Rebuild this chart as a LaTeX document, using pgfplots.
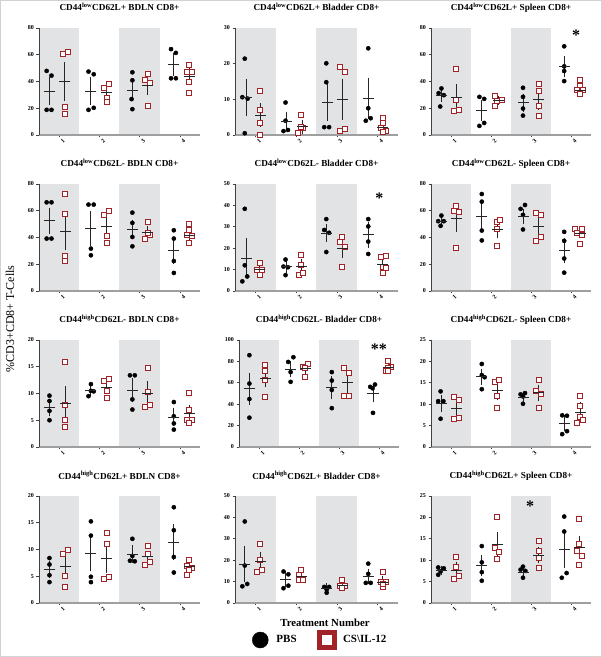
\documentclass[border=0pt]{standalone}
\usepackage{pgfplots}
\pgfplotsset{compat=1.18}
\usepackage{fontspec}
\setmainfont{Liberation Serif}
\definecolor{csred}{RGB}{160,35,40}
\definecolor{band}{RGB}{226,227,229}
\pgfplotsset{
 base/.style={
  scale only axis, height=107pt, anchor=north west,
  xmin=0.5, xmax=4.5, ymin=0,
  axis x line=bottom, axis y line=left,
  x axis line style={-, line width=1.6pt, color=gray!75},
  y axis line style={-, line width=0.8pt, color=black!75},
  xtick={1,2,3,4}, tick align=outside, major tick length=2.5pt,
  tick style={black!75, line width=0.6pt},
  xticklabel style={rotate=45, anchor=center, font=\fontsize{6}{7}\selectfont\bfseries, yshift=-5pt},
  yticklabel style={font=\fontsize{6}{7}\selectfont\bfseries, xshift=1pt},
  /pgf/number format/assume math mode=true,
  title style={at={(0.5,1)}, anchor=base, yshift=11pt, font=\fontsize{9.2}{10}\selectfont\bfseries},
  clip=false, axis on top,
 },
 pbs/.style={only marks, mark=*, mark size=2.1pt, black, forget plot},
 cs/.style={only marks, mark=square*, mark size=2.5pt, mark options={fill=white, draw=csred, line width=1pt}, forget plot},
 stat/.style={only marks, mark=-, mark size=5.5pt, mark options={line width=0.9pt}, black!85, forget plot,
   error bars/.cd, y dir=both, y explicit, error mark=-,
   error mark options={mark size=3pt, line width=0.9pt, black!85},
   error bar style={line width=0.9pt, black!85}},
}
\newcommand{\panel}[8]{%
\begin{axis}[base, #1, ymax=#2, ytick={#3}, title={#4}]
\fill[band] (axis cs:0.5,0) rectangle (axis cs:1.5,#2);
\fill[band] (axis cs:2.5,0) rectangle (axis cs:3.5,#2);
\addplot[pbs] coordinates {#5};
\addplot[cs] coordinates {#6};
\addplot[stat] coordinates {#7};
#8
\end{axis}}
\newcommand{\sig}[2]{\node[font=\fontsize{16}{16}\selectfont\bfseries, anchor=base, yshift=-8.5pt] at (axis cs:#1) {#2};}
\begin{document}
\begin{tikzpicture}[x=1pt,y=1pt]
\useasboundingbox (0,0) rectangle (602,657);
\draw[gray!35, line width=0.8pt] (0.4,0.4) rectangle (601.6,656.6);
% Row 1
\panel{at={(39pt,629pt)}, width=161pt}{80}{0,20,...,80}{CD44\textsuperscript{low}CD62L+ BDLN CD8+}
{(0.69,47.9)(0.81,44.4)(0.69,18.8)(0.81,18.8) (1.73,47.4)(1.86,45.4)(1.73,18.8)(1.86,20.3) (2.82,46.9)(2.82,40.9)(2.80,26.8)(2.82,19.3) (3.78,64.2)(3.90,61.4)(3.78,42.4)(3.90,42.4)}
{(1.09,60.2)(1.21,62.2)(1.15,20.8)(1.15,15.5) (2.12,35.3)(2.24,37.8)(2.18,27.8)(2.18,24.3) (3.13,41.1)(3.21,45.4)(3.26,38.6)(3.20,21.8) (4.23,52.4)(4.17,46.9)(4.29,47.4)(4.23,39.8)(4.23,31.1)}
{(0.77,32.8)+-(0,8.2) (1.79,32.8)+-(0,8) (2.82,33.3)+-(0,5.5) (3.85,52.6)+-(0,6.1) (1.14,39.8)+-(0,12.3) (2.17,31.6)+-(0,2.7) (3.20,37.1)+-(0,4.9) (4.23,43.6)+-(0,4.3)}
{}
\panel{at={(235pt,629pt)}, width=163pt}{30}{0,10,20,30}{CD44\textsuperscript{low}CD62L+ Bladder CD8+}
{(0.74,21.4)(0.68,10.6)(0.81,10.2)(0.74,0.5) (1.74,9.1)(1.74,4.0)(1.69,1.1)(1.80,1.4) (2.74,20.1)(2.74,14.8)(2.69,2.2)(2.81,2.2) (3.77,24.3)(3.77,7.5)(3.83,4.7)(3.71,4.0)}
{(1.11,12.3)(1.11,7.0)(1.11,3.4)(1.11,0.1) (2.12,5.6)(2.05,0.5)(2.17,1.9)(2.12,2.2) (3.07,19.0)(3.19,17.8)(3.07,1.2)(3.19,1.6) (4.13,4.8)(4.13,3.3)(4.08,1.9)(4.20,1.2)(4.13,0.7)}
{(0.77,10.6)+-(0,4.3) (1.77,3.9)+-(0,1.8) (2.77,9.2)+-(0,4.3) (3.77,10.2)+-(0,4.8) (1.13,5.6)+-(0,2.4) (2.15,2.3)+-(0,1.2) (3.13,10.0)+-(0,4.9) (4.13,2.2)+-(0,0.9)}
{}
\panel{at={(431pt,629pt)}, width=160pt}{80}{0,20,...,80}{CD44\textsuperscript{low}CD62L+ Spleen CD8+}
{(0.69,31.3)(0.76,34.8)(0.82,29.8)(0.73,21.3) (1.71,28.5)(1.83,27.0)(1.71,6.8)(1.83,9.0) (2.80,35.3)(2.80,28.5)(2.80,19.8)(2.80,14.5) (3.83,66.3)(3.83,51.3)(3.83,47.8)(3.83,40.3)}
{(1.12,49.5)(1.12,26.5)(1.07,18.0)(1.19,18.5) (2.09,29.3)(2.09,22.0)(2.15,25.5)(2.27,26.0) (3.19,37.8)(3.19,32.8)(3.19,21.5)(3.19,14.5) (4.23,41.0)(4.23,36.5)(4.16,33.5)(4.29,33.5)(4.23,31.0)}
{(0.76,29.8)+-(0,3) (1.77,18.5)+-(0,5.6) (2.80,24)+-(0,4.6) (3.83,51)+-(0,5.6) (1.14,28)+-(0,7.6) (2.18,26)+-(0,1.1) (3.19,26.8)+-(0,5.9) (4.23,33.5)+-(0,1.5)}
{\sig{4.13,77}{*}}
% Row 2
\panel{at={(39pt,473pt)}, width=161pt}{80}{0,20,...,80}{CD44\textsuperscript{low}CD62L- BDLN CD8+}
{(0.69,66.3)(0.81,66.3)(0.69,39.2)(0.81,39.2) (1.73,64.6)(1.86,64.6)(1.79,31.7)(1.79,26.7) (2.82,58.6)(2.82,50.9)(2.82,40.4)(2.82,33.4) (3.85,45.4)(3.85,39.2)(3.85,22.4)(3.85,13.5)}
{(1.15,72.6)(1.15,57.4)(1.15,26.2)(1.15,22.4) (2.11,56.9)(2.24,59.9)(2.18,41.1)(2.18,35.9) (3.20,51.6)(3.14,39.2)(3.26,41.6)(3.20,43.6) (4.23,50.1)(4.23,45.6)(4.17,41.6)(4.29,41.4)(4.23,35.7)}
{(0.77,52.6)+-(0,7.5) (1.79,46.6)+-(0,10.6) (2.82,45.9)+-(0,4.9) (3.85,30.2)+-(0,7.8) (1.15,44.6)+-(0,11.4) (2.18,48.4)+-(0,5.7) (3.20,44.1)+-(0,2.3) (4.23,41.9)+-(0,2.5)}
{}
\panel{at={(235pt,473pt)}, width=163pt}{50}{0,10,...,50}{CD44\textsuperscript{low}CD62L- Bladder CD8+}
{(0.74,38.4)(0.74,12.0)(0.80,6.8)(0.68,4.5) (1.74,14.7)(1.69,11.4)(1.80,11.1)(1.74,7.4) (2.74,33.6)(2.69,28.5)(2.81,27.2)(2.74,18.2) (3.77,33.6)(3.77,30.2)(3.77,23.1)(3.77,17.3)}
{(1.11,13.1)(1.05,9.6)(1.17,9.6)(1.11,7.4) (2.12,16.8)(2.12,12.3)(2.06,7.7)(2.18,8.6) (3.13,25.3)(3.07,23.1)(3.19,20.7)(3.13,11.1) (4.20,16.4)(4.08,15.7)(4.13,11.4)(4.20,10.8)(4.13,8.5)}
{(0.77,15.3)+-(0,7.9) (1.77,11.3)+-(0,1.3) (2.74,27.0)+-(0,2.8) (3.77,26.2)+-(0,4.7) (1.11,10.0)+-(0,1.0) (2.13,11.4)+-(0,2.0) (3.13,19.9)+-(0,3.3) (4.13,12.3)+-(0,1.7)}
{\sig{4.04,45}{*}}
\panel{at={(431pt,473pt)}, width=160pt}{80}{0,20,...,80}{CD44\textsuperscript{low}CD62L- Spleen CD8+}
{(0.76,56.4)(0.68,52.2)(0.82,52.2)(0.74,48.7) (1.77,72.5)(1.77,66.8)(1.77,45.2)(1.77,37.8) (2.74,61.4)(2.85,64.3)(2.80,56.9)(2.80,46.0) (3.83,44.2)(3.83,37.5)(3.83,24.3)(3.83,13.7)}
{(1.12,63.4)(1.07,60.1)(1.19,59.1)(1.12,32.0) (2.15,51.7)(2.22,53.4)(2.15,46.7)(2.15,33.3) (3.13,58.4)(3.25,57.1)(3.25,40.7)(3.13,37.3) (4.10,46.5)(4.28,46.7)(4.16,43.5)(4.28,42.2)(4.23,34.8)}
{(0.76,51.9)+-(0,1.9) (1.77,55.7)+-(0,8.7) (2.80,55.7)+-(0,3.7) (3.83,30.1)+-(0,7.3) (1.14,53.9)+-(0,7.6) (2.17,46.2)+-(0,4.5) (3.19,48.2)+-(0,5.5) (4.23,43.2)+-(0,1.5)}
{}
% Row 3
\panel{at={(39pt,317pt)}, width=161pt}{20}{0,5,...,20}{CD44\textsuperscript{high}CD62L- BDLN CD8+}
{(0.76,9.6)(0.76,8.6)(0.76,6.75)(0.76,5.0) (1.79,11.75)(1.73,9.5)(1.86,10.4)(1.79,10.5) (2.76,13.4)(2.88,13.4)(2.82,8.9)(2.82,7.0) (3.85,8.4)(3.85,5.75)(3.85,4.4)(3.85,3.25)}
{(1.15,15.8)(1.15,7.9)(1.15,5.0)(1.15,3.75) (2.11,12.4)(2.24,12.7)(2.18,10.4)(2.18,9.1) (3.20,14.8)(3.20,10.3)(3.14,7.5)(3.26,7.9) (4.23,10.0)(4.23,7.0)(4.17,5.1)(4.29,5.0)(4.23,4.5)}
{(0.77,7.4)+-(0,1.1) (1.79,10.5)+-(0,0.45) (2.82,10.6)+-(0,1.7) (3.85,5.6)+-(0,1.1) (1.15,8.1)+-(0,2.7) (2.18,11.1)+-(0,0.55) (3.20,10.1)+-(0,1.7) (4.23,6.2)+-(0,1.0)}
{}
\panel{at={(239pt,317pt)}, width=160pt}{100}{0,20,...,100}{CD44\textsuperscript{high}CD62L- Bladder CD8+}
{(0.76,85.8)(0.76,59.3)(0.76,44.8)(0.76,27.4) (1.73,79.5)(1.86,83.9)(1.79,70.0)(1.79,60.9) (2.82,70.0)(2.82,62.1)(2.82,53.3)(2.82,36.3) (3.78,56.2)(3.84,54.9)(3.90,58.4)(3.85,31.9)}
{(1.15,76.3)(1.15,71.3)(1.15,62.5)(1.15,46.7) (2.10,74.8)(2.22,77.9)(2.16,73.8)(2.16,65.6) (3.13,73.5)(3.26,68.8)(3.13,47.9)(3.26,47.9) (4.23,80.4)(4.17,71.3)(4.29,74.4)(4.23,73.8)(4.23,70.7)}
{(0.77,54.3)+-(0,12.3) (1.79,72.9)+-(0,5) (2.82,55.2)+-(0,7.9) (3.85,50.5)+-(0,6) (1.15,64.4)+-(0,5.8) (2.17,73.2)+-(0,1.8) (3.20,59.9)+-(0,7) (4.23,74.4)+-(0,1.3)}
{\sig{4.0,94.6}{**}}
\panel{at={(431pt,317pt)}, width=160pt}{25}{0,5,...,25}{CD44\textsuperscript{high}CD62L- Spleen CD8+}
{(0.74,13.0)(0.68,10.7)(0.81,10.7)(0.74,6.6) (1.77,19.4)(1.77,16.8)(1.84,16.3)(1.77,13.5) (2.74,12.3)(2.85,12.6)(2.80,11.8)(2.80,10.1) (3.78,7.4)(3.90,7.3)(3.78,3.0)(3.90,3.7)}
{(1.07,11.6)(1.19,10.9)(1.07,6.6)(1.19,6.8) (2.09,15.1)(2.21,15.7)(2.15,12.0)(2.15,9.2) (3.19,15.7)(3.13,13.0)(3.24,12.4)(3.19,9.1) (4.23,11.9)(4.23,9.5)(4.23,7.0)(4.29,6.4)(4.16,5.6)}
{(0.76,10.25)+-(0,1.3) (1.77,16.4)+-(0,1.2) (2.80,11.6)+-(0,0.65) (3.84,5.6)+-(0,1.15) (1.13,8.9)+-(0,1.3) (2.15,13.1)+-(0,1.5) (3.19,12.7)+-(0,1.2) (4.23,8.15)+-(0,1.55)}
{}
% Row 4
\panel{at={(39pt,161pt)}, width=161pt}{20}{0,5,...,20}{CD44\textsuperscript{high}CD62L+ BDLN CD8+}
{(0.76,8.4)(0.76,7.2)(0.76,5.2)(0.76,3.9) (1.79,15.25)(1.79,12.6)(1.79,4.9)(1.79,3.9) (2.82,12.0)(2.82,8.8)(2.76,7.9)(2.88,7.8) (3.85,17.9)(3.85,13.6)(3.85,8.6)(3.85,5.7)}
{(1.09,9.1)(1.21,9.9)(1.15,5.1)(1.15,3.0) (2.18,13.0)(2.18,11.1)(2.11,4.5)(2.24,4.9) (3.20,10.7)(3.20,9.1)(3.14,7.1)(3.26,7.75) (4.23,8.0)(4.17,7.0)(4.29,6.6)(4.23,6.25)(4.17,5.3)}
{(0.77,6.25)+-(0,1.05) (1.79,9.25)+-(0,2.8) (2.82,9.1)+-(0,1.1) (3.85,11.4)+-(0,2.8) (1.15,6.9)+-(0,1.6) (2.18,8.3)+-(0,2.1) (3.20,8.7)+-(0,0.5) (4.23,6.75)+-(0,0.5)}
{}
\panel{at={(235pt,161pt)}, width=163pt,
  legend columns=2,
  legend style={draw=none, fill=none, at={(0.52,-0.346)}, anchor=center,
    font=\fontsize{11}{12}\selectfont\bfseries,
    /tikz/every even column/.append style={column sep=19pt}},
  legend image code/.code={\path (0pt,0pt) (23pt,0pt); \draw[#1] plot coordinates {(9pt,0pt)};}}{50}{0,10,...,50}{CD44\textsuperscript{high}CD62L+ Bladder CD8+}
{(0.74,38.1)(0.74,17.5)(0.68,7.8)(0.80,8.9) (1.69,14.7)(1.81,13.4)(1.69,6.9)(1.81,8.1) (2.69,7.5)(2.81,7.5)(2.75,6.3)(2.75,4.8) (3.77,18.4)(3.77,13.6)(3.71,9.4)(3.83,9.4)}
{(1.11,27.8)(1.11,20.3)(1.05,14.4)(1.17,15.3) (2.12,15.3)(2.06,13.0)(2.06,10.6)(2.18,10.6) (3.13,10.6)(3.07,8.1)(3.19,7.8)(3.13,7.2) (4.13,14.4)(4.08,10.0)(4.20,10.0)(4.13,7.5)(4.13,9.1)}
{(0.74,18.0)+-(0,7) (1.75,11.1)+-(0,2.3) (2.75,7.0)+-(0,0.75) (3.77,12.5)+-(0,2.2) (1.13,19.2)+-(0,3.0) (2.13,12.5)+-(0,1.0) (3.13,8.3)+-(0,0.7) (4.13,9.7)+-(0,1.7)}
{\addlegendimage{only marks, mark=*, mark size=8pt, black}
 \addlegendentry{PBS}
 \addlegendimage{only marks, mark=square*, mark size=7.5pt, mark options={fill=white, draw=csred, line width=4.5pt}}
 \addlegendentry{CS\textbackslash IL-12}}
\panel{at={(431pt,161pt)}, width=160pt}{25}{0,5,...,25}{CD44\textsuperscript{high}CD62L+ Spleen CD8+}
{(0.68,8.3)(0.82,8.1)(0.74,7.4)(0.68,6.6) (1.77,13.3)(1.77,9.5)(1.77,7.2)(1.77,5.2) (2.80,8.5)(2.74,7.8)(2.86,7.5)(2.80,5.9) (3.83,20.2)(3.83,16.7)(3.77,5.9)(3.89,7.0)}
{(1.12,10.8)(1.12,8.3)(1.19,6.3)(1.07,5.5) (2.15,20.2)(2.09,12.8)(2.21,11.9)(2.15,10.2) (3.19,14.4)(3.19,12.2)(3.19,10.5)(3.19,8.1) (4.21,19.7)(4.21,13.75)(4.16,12.2)(4.28,11.0)(4.21,8.8)}
{(0.76,7.6)+-(0,0.45) (1.77,8.75)+-(0,1.75) (2.80,7.2)+-(0,0.4) (3.83,12.5)+-(0,3.65) (1.14,7.7)+-(0,1.25) (2.17,13.75)+-(0,2.15) (3.19,11.2)+-(0,1.15) (4.21,13.0)+-(0,1.85)}
{\sig{2.98,23.3}{*}}
% labels
\node[rotate=90, font=\fontsize{12}{13}\selectfont] at (10,338) {\%CD3+CD8+ T-Cells};
\node[font=\fontsize{10.8}{12}\selectfont\bfseries] at (325,34) {Treatment Number};
\end{tikzpicture}
\end{document}
